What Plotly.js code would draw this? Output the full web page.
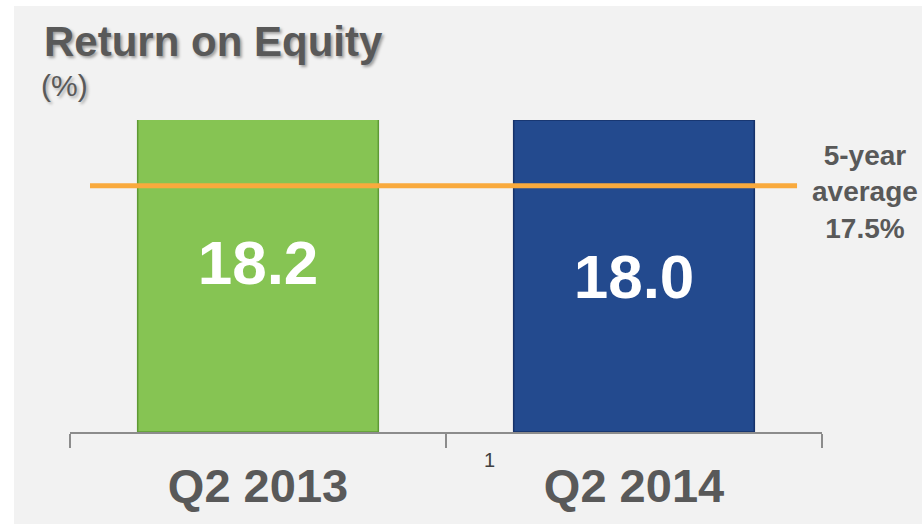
<!DOCTYPE html>
<html>
<head>
<meta charset="utf-8">
<script src="https://cdn.plot.ly/plotly-3.0.1.min.js"></script>
<style>
  html, body { margin: 0; padding: 0; background: #ffffff; width: 922px; height: 524px; overflow: hidden; }
  #chart { position: absolute; left: 14px; top: 6px; width: 908px; height: 518px; }
</style>
</head>
<body>
<div id="chart"></div>
<script>
// ---- data ----
const categories = ["Q2 2013", "Q2 2014"];
const roeValues = [18.2, 18.0];
const barColors = ["#86c453", "#234a8e"];
const barEdgeColors = ["#5f9a35", "#16326a"];
const fiveYearAverage = 17.5;
const footnoteMark = "1";
const chartTitle = "Return on Equity";
const unitLabel = "(%)";

// axis is broken (does not start at zero); visible window of the value axis
const axisMin = 15.63;
const axisMax = 18.0;

const FONT = "Arial, 'Liberation Sans', sans-serif";
const GREY = "#595959";

const trace = {
  type: "bar",
  x: categories,
  y: roeValues.map(v => v - axisMin),
  base: axisMin,
  width: 0.64,
  marker: { color: barColors, line: { color: barEdgeColors, width: 1.5 } },
  text: roeValues.map(v => v.toFixed(1)),
  textposition: "inside",
  insidetextanchor: "middle",
  textangle: 0,
  constraintext: "none",
  textfont: { family: FONT, size: 62, color: "#ffffff", weight: "bold" },
  hoverinfo: "skip",
  cliponaxis: true
};

const layout = {
  width: 908,
  height: 518,
  margin: { l: 56, r: 100, t: 114, b: 92 },
  paper_bgcolor: "#f2f2f2",
  plot_bgcolor: "rgba(0,0,0,0)",
  showlegend: false,
  title: {
    text: chartTitle,
    font: { family: FONT, size: 42, color: GREY, weight: "bold", shadow: "2px 2px 3px rgba(0,0,0,0.35)" },
    xref: "container", yref: "container",
    x: 30 / 908, xanchor: "left",
    y: 1 - 35 / 518, yanchor: "middle"
  },
  xaxis: {
    type: "category",
    range: [-0.5, 1.5],
    showgrid: false,
    zeroline: false,
    showline: true,
    linecolor: "#8c8c8c",
    linewidth: 2,
    ticks: "outside",
    tickson: "boundaries",
    ticklen: 14,
    tickwidth: 2,
    tickcolor: "#8c8c8c",
    ticklabelstandoff: 12,
    tickfont: { family: FONT, size: 47, color: GREY, weight: "bold" },
    fixedrange: true
  },
  yaxis: {
    range: [axisMin, axisMax],
    visible: false,
    fixedrange: true
  },
  shapes: [
    {
      type: "line", xref: "paper", yref: "y",
      x0: 0.0266, x1: 0.9668, y0: fiveYearAverage, y1: fiveYearAverage,
      line: { color: "#f9aa3d", width: 5 }
    }
  ],
  annotations: [
    {
      text: unitLabel,
      xref: "paper", yref: "paper",
      x: -31 / 752, xanchor: "left",
      y: (426 - 80) / 312, yanchor: "middle",
      showarrow: false,
      font: { family: FONT, size: 30, color: GREY, shadow: "2px 2px 3px rgba(0,0,0,0.3)" }
    },
    {
      text: "5-year<br>average<br>" + fiveYearAverage.toFixed(1) + "%",
      xref: "paper", yref: "paper",
      x: 1.057, xanchor: "center",
      y: 0.769, yanchor: "middle",
      showarrow: false,
      align: "center",
      font: { family: FONT, size: 28, color: GREY, weight: "bold" }
    },
    {
      text: footnoteMark,
      xref: "paper", yref: "paper",
      x: 0.5585, xanchor: "center",
      y: -0.0897, yanchor: "middle",
      showarrow: false,
      font: { family: FONT, size: 20, color: "#404040" }
    }
  ]
};

Plotly.newPlot("chart", [trace], layout, { staticPlot: true, displayModeBar: false });
</script>
</body>
</html>
